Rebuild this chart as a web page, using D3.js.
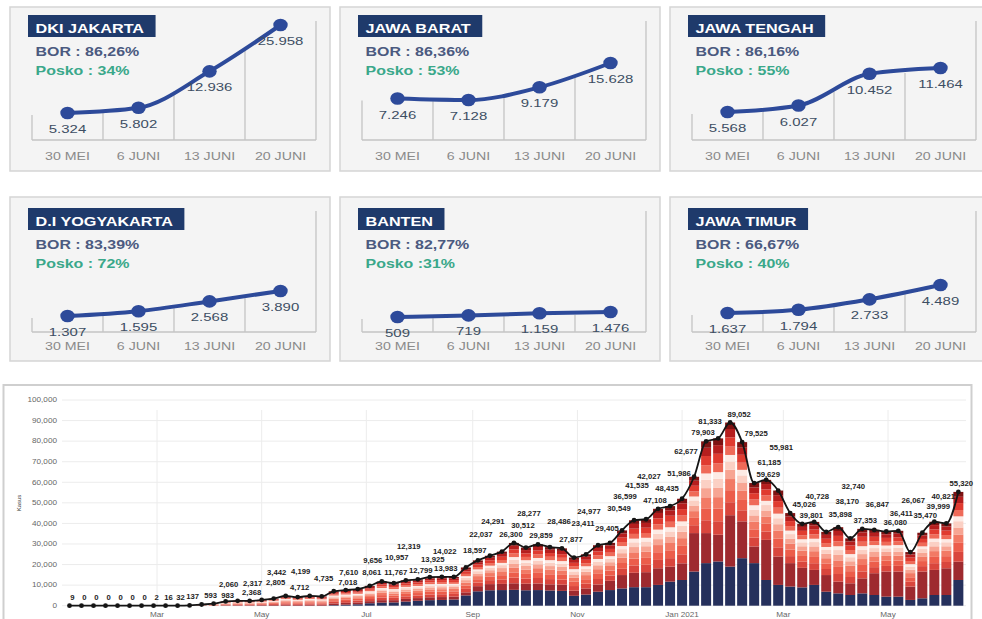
<!DOCTYPE html>
<html><head><meta charset="utf-8">
<script src="https://cdn.jsdelivr.net/npm/d3@7"></script>
<style>
body{margin:0;background:#fff;}
svg{display:block;font-family:"Liberation Sans",Arial,sans-serif;}
</style>
</head><body>
<svg id="c" width="982" height="619"></svg>
<script>
// ================= DATA =================
// Small province cards
const panelDates = ["30 MEI", "6 JUNI", "13 JUNI", "20 JUNI"];
const panelNames = ["DKI JAKARTA", "JAWA BARAT", "JAWA TENGAH", "D.I YOGYAKARTA", "BANTEN", "JAWA TIMUR"];
const borLabels = ["BOR : 86,26%", "BOR : 86,36%", "BOR : 86,16%", "BOR : 83,39%", "BOR : 82,77%", "BOR : 66,67%"];
const poskoLabels = ["Posko : 34%", "Posko : 53%", "Posko : 55%", "Posko : 72%", "Posko :31%", "Posko : 40%"];
const dkiJakarta = [5324, 5802, 12936, 25958];
const jawaBarat = [7246, 7128, 9179, 15628];
const jawaTengah = [5568, 6027, 10452, 11464];
const yogyakarta = [1307, 1595, 2568, 3890];
const banten = [509, 719, 1159, 1476];
const jawaTimur = [1637, 1794, 2733, 4489];

// Weekly national cases (bottom chart), first week starting 10 Jan 2020
const firstWeek = new Date(2020, 0, 10);
const weeklyCases = [9,0,0,0,0,0,0,2,16,32,137,593,983,2060,2368,2317,2805,3442,4712,4199,
  4735,4500,7018,7610,8061,9656,11767,10957,12319,12799,13925,14022,13983,18597,22037,24291,26300,30512,28277,29859,
  28486,27877,23411,24977,29405,30549,36599,41535,42027,47108,48435,51986,62677,79903,81333,89052,79525,59629,61185,55981,
  45026,39801,40728,35898,38170,32740,37353,36847,36080,36411,26067,35470,40821,39999,55320];
const unlabeledWeeks = [21];
// bottom layer (navy) and second layer (maroon)
const navyLayer = [0,0,0,0,0,0,0,0,0,0,0,0,0,0,0,0,0,0,0,0,0,0,
  300,500,700,1200,1500,1600,2000,2400,2700,2800,3000,5000,7000,7500,7600,7700,7500,7600,7400,7200,
  4800,5400,6800,7600,8400,9000,9000,10100,11700,12500,16600,20700,21500,19000,23100,20700,12500,10100,9300,8900,
  10100,6800,6000,5200,6000,5200,4400,4400,2800,3600,5200,5200,12500];
const maroonLayer = [0,0,0,0,0,0,0,0,0,0,0,0,0,
  200,250,250,300,400,500,450,500,500,800,900,900,1000,1200,1100,1300,1300,1400,1400,1400,
  1500,2500,3000,3000,3200,3200,3200,3000,3000,2500,3000,3500,4500,6500,7000,7300,8100,7300,8100,18700,
  14600,13000,25000,17900,8100,19500,13800,11400,9500,7300,8100,5700,5700,7300,10600,12200,12200,6500,13000,12200,
  13000,8900];
// share of the remaining cases in each upper red band (bottom -> top)
const redBandShares = [0.14, 0.13, 0.12, 0.10, 0.09, 0.07, 0.09, 0.10, 0.09, 0.07];

const yTicks = [0,10000,20000,30000,40000,50000,60000,70000,80000,90000,100000];
const xTickDates = ["2020-03-01","2020-05-01","2020-07-01","2020-09-01","2020-11-01","2021-01-01","2021-03-01","2021-05-01"];
const xTickLabels = ["Mar","May","Jul","Sep","Nov","Jan 2021","Mar","May"];

// ================= STYLE / LAYOUT =================
const redBandColors = ["#d9463d","#ec5d4b","#f27a65","#f7a593","#fbd0c4","#fdebe5","#ef6a58","#e03b30","#b51e1e","#7e1212"];
const panelHeights = [[27,115],[40,77],[28,72],[16,41],[15,20],[19,47]];

const svg = d3.select("#c");
const fmtID = d3.formatLocale({decimal: ",", thousands: ".", grouping: [3], currency: ["", ""]}).format(",");
const fmtEN = d3.format(",");

function stext(g, x, y, str, sx, opts) {
  const t = g.append("text")
    .attr("transform", `translate(${x},${y}) scale(${sx},1)`)
    .text(str);
  Object.entries(opts || {}).forEach(([k, v]) => t.attr(k, v));
  return t;
}

// ================= PANELS =================
const panelSeries = [dkiJakarta, jawaBarat, jawaTengah, yogyakarta, banten, jawaTimur];
const xBand = d3.scaleBand().domain(panelDates).range([22, 306]);

panelSeries.forEach((vals, i) => {
  const col = i % 3, row = Math.floor(i / 3);
  const cx = 10 + col * 330, cy = row === 0 ? 7 : 197;
  const dy = row === 0 ? 0 : 3;
  const baseY = row === 0 ? 133 : 135;
  const g = svg.append("g").attr("transform", `translate(${cx},${cy})`);

  g.append("rect").attr("x", 0).attr("y", 0).attr("width", 320).attr("height", 164)
    .attr("fill", "#f4f4f4").attr("stroke", "#d5d5d5").attr("stroke-width", 1.5);

  // title
  const tb = g.append("rect").attr("x", 18).attr("y", 8 + dy).attr("height", 22).attr("fill", "#1f3a6b");
  const tt = stext(g, 25.5, 25.5 + dy, panelNames[i], 1.2,
    {"fill": "#fff", "font-weight": "bold", "font-size": 13.5});
  tb.attr("width", tt.node().getComputedTextLength() * 1.2 + 19);

  stext(g, 25.5, 49 + dy, borLabels[i], 1.33, {"fill": "#4b5a80", "font-weight": "bold", "font-size": 12});
  stext(g, 25.5, 68 + dy, poskoLabels[i], 1.33, {"fill": "#3aa88a", "font-weight": "bold", "font-size": 12});

  // y scale (min..max of the card)
  const norm = d3.scaleLinear().domain(d3.extent(vals)).range([0, 1]);
  const yp = d3.scalePow().exponent(0.75).domain([0, 1])
    .range([baseY - panelHeights[i][0], baseY - panelHeights[i][1]]);
  const py = v => yp(norm(v));
  const px = d => xBand(d) + xBand.bandwidth() / 2;

  // vertical grid lines
  d3.range(panelDates.length + 1).forEach(k => {
    const gx = 22 + k * xBand.bandwidth();
    let top;
    if (k === 0) top = py(vals[0]) + 2;
    else if (k === panelDates.length) top = 14;
    else top = (py(vals[k - 1]) + py(vals[k])) / 2 + 2;
    g.append("line").attr("x1", gx).attr("x2", gx).attr("y1", baseY).attr("y2", top)
      .attr("stroke", "#c4c4c4").attr("stroke-width", 1.3);
  });
  g.append("line").attr("x1", 22).attr("x2", 306).attr("y1", baseY).attr("y2", baseY)
    .attr("stroke", "#c4c4c4").attr("stroke-width", 1.5);

  // x labels
  panelDates.forEach(d => {
    stext(g, px(d), 153, d, 1.35, {"text-anchor": "middle", "fill": "#8a8a8a", "font-size": 10.5});
  });

  // line
  const line = d3.line().x((v, k) => px(panelDates[k])).y(v => py(v)).curve(d3.curveMonotoneX);
  g.append("path").datum(vals).attr("d", line).attr("fill", "none")
    .attr("stroke", "#2d4a9a").attr("stroke-width", 4).attr("stroke-linecap", "round");
  vals.forEach((v, k) => {
    g.append("ellipse").attr("cx", px(panelDates[k])).attr("cy", py(v)).attr("rx", 7.2).attr("ry", 6.3)
      .attr("fill", "#2d4a9a");
  });
  vals.forEach((v, k) => {
    stext(g, px(panelDates[k]), py(v) + 20, fmtID(v), 1.3,
      {"text-anchor": "middle", "fill": "#3d4e63", "font-size": 11.5});
  });
});

// ================= BOTTOM CHART =================
const gb = svg.append("g");
gb.append("rect").attr("x", 3.5).attr("y", 385).attr("width", 968).attr("height", 260)
  .attr("fill", "#fff").attr("stroke", "#cfcfcf").attr("stroke-width", 2);

const x = d3.scaleTime().domain([new Date(2020, 2, 1), new Date(2021, 4, 1)]).range([157, 888]);
const y = d3.scaleLinear().domain([0, 100000]).range([605.7, 400]);
const weeks = weeklyCases.map((v, i) => d3.timeDay.offset(firstWeek, 7 * i));
const tickDates = xTickDates.map(s => d3.timeParse("%Y-%m-%d")(s));

// grid
yTicks.forEach(t => {
  gb.append("line").attr("x1", 62).attr("x2", 966).attr("y1", y(t)).attr("y2", y(t))
    .attr("stroke", "#ececec").attr("stroke-width", 1);
  stext(gb, 57, y(t) + 2.3, fmtEN(t), 1.3, {"text-anchor": "end", "fill": "#666", "font-size": 6.3});
});
tickDates.forEach((d, k) => {
  gb.append("line").attr("x1", x(d)).attr("x2", x(d)).attr("y1", 410).attr("y2", 605.7)
    .attr("stroke", "#ececec").attr("stroke-width", 1);
  stext(gb, x(d), 617, xTickLabels[k], 1.3, {"text-anchor": "middle", "fill": "#666", "font-size": 6.3});
});
gb.append("text").attr("transform", "translate(21,503) rotate(-90)").attr("text-anchor", "middle")
  .attr("font-size", 6).attr("fill", "#444").text("Kasus");

// stacked bars
const bandKeys = redBandShares.map((s, k) => "r" + k);
const keys = ["navy", "maroon"].concat(bandKeys);
const colors = ["#25305c", "#9e2a2f"].concat(redBandColors);
const rows = weeks.map((d, i) => {
  const rest = Math.max(0, weeklyCases[i] - navyLayer[i] - maroonLayer[i]);
  const r = {date: d, navy: navyLayer[i], maroon: maroonLayer[i]};
  redBandShares.forEach((s, k) => { r["r" + k] = rest * s; });
  return r;
});
const stacked = d3.stack().keys(keys)(rows);
stacked.forEach((layer, li) => {
  gb.append("g").attr("fill", colors[li]).selectAll("rect").data(layer).join("rect")
    .attr("x", d => x(d.data.date) - 5).attr("width", 10)
    .attr("y", d => y(d[1])).attr("height", d => Math.max(0, y(d[0]) - y(d[1])));
});

// total line + dots
const tl = d3.line().x((v, i) => x(weeks[i])).y(v => y(v)).curve(d3.curveMonotoneX);
const totalPath = gb.append("path").datum(weeklyCases).attr("d", tl).attr("fill", "none")
  .attr("stroke", "#151515").attr("stroke-width", 1.8);
gb.selectAll("circle.dot").data(weeklyCases).join("circle").attr("class", "dot")
  .attr("cx", (v, i) => x(weeks[i])).attr("cy", v => y(v)).attr("r", 2.4).attr("fill", "#151515");

// value labels: avoid each other and the line
const pn = totalPath.node();
const totalLen = pn.getTotalLength();
const linePts = d3.range(0, totalLen, 1.2).map(l => pn.getPointAtLength(l));
const placed = [];
const gl = gb.append("g");
const offsets = [];
for (let level = 0; level < 8; level++) {
  [3, 9, -3, 14, -8].forEach(dx => offsets.push({level, dx}));
}
weeklyCases.forEach((v, i) => {
  if (unlabeledWeeks.includes(i)) return;
  const dotX = x(weeks[i]), dotY = y(v);
  const t = gl.append("text").attr("font-size", 7).attr("font-weight", "bold").attr("fill", "#222")
    .attr("text-anchor", "middle").text(fmtEN(v));
  const w = t.node().getComputedTextLength() * 1.1;
  let best = null;
  for (const o of offsets) {
    const cx = dotX + o.dx, b = dotY - 6 - o.level * 8.6;
    const box = {x0: cx - w / 2, x1: cx + w / 2, y0: b - 6.6, y1: b + 1.6, cx, b};
    if (box.y0 < 388) continue;
    const hitLabel = placed.some(p => p.x0 < box.x1 + 0.6 && box.x0 < p.x1 + 0.6 && p.y0 < box.y1 && box.y0 < p.y1);
    if (hitLabel) continue;
    const hitLine = linePts.some(p => p.x > box.x0 - 1 && p.x < box.x1 + 1 && p.y > box.y0 - 1.2 && p.y < box.y1 + 1.2);
    if (hitLine) continue;
    best = box; break;
  }
  if (!best) {
    const cx = dotX + 3, b = dotY - 6;
    best = {x0: cx - w / 2, x1: cx + w / 2, y0: b - 6.6, y1: b + 1.6, cx, b};
  }
  placed.push(best);
  t.attr("transform", `translate(${best.cx},${best.b}) scale(1.1,1)`);
});
</script>
</body></html>
